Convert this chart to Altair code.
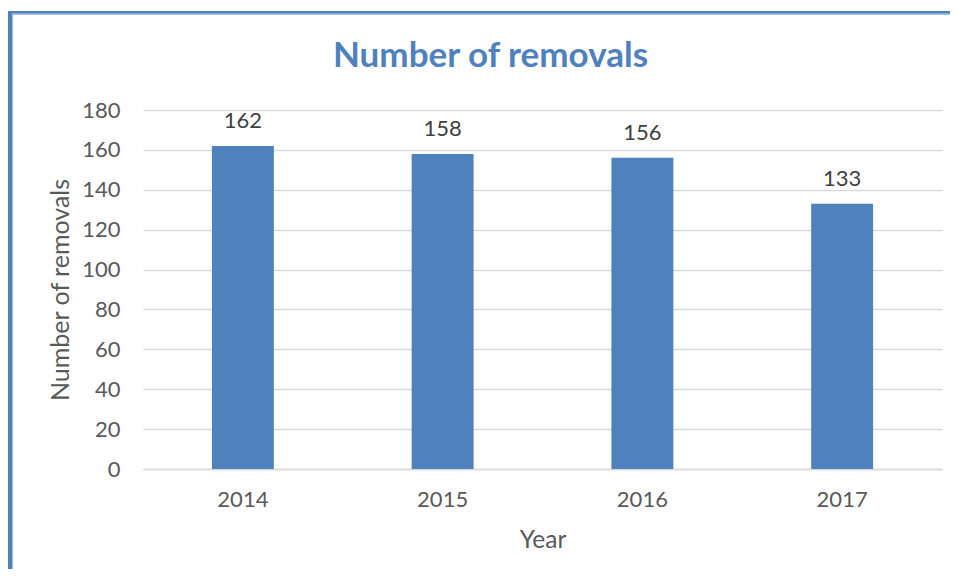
import altair as alt
import pandas as pd

years = ["2014", "2015", "2016", "2017"]
removals = [162, 158, 156, 133]
y_ticks = [0, 20, 40, 60, 80, 100, 120, 140, 160, 180]

df = pd.DataFrame({"Year": years, "Removals": removals})

BLUE = "#4F81BD"
GREY_TXT = "#595959"
FONT = "Lato"

W, H = 799, 359
PAD_L, PAD_T = 135, 102

x_enc = alt.X(
    "Year:N",
    sort=years,
    scale=alt.Scale(paddingInner=0.69, paddingOuter=0.345),
    axis=alt.Axis(
        title="Year", labelAngle=0, ticks=False, domain=True,
        domainColor="#D9D9D9", domainWidth=1.5, labelPadding=20,
        labelFontSize=22, labelColor=GREY_TXT, labelFont=FONT,
        titleFontSize=24.5, titleColor=GREY_TXT, titleFont=FONT,
        titleFontWeight="normal", titlePadding=18,
    ),
)
y_enc = alt.Y(
    "Removals:Q",
    scale=alt.Scale(domain=[0, 180], nice=False),
    axis=alt.Axis(
        title="Number of removals", values=y_ticks,
        ticks=False, domain=False,
        grid=True, gridColor="#D9D9D9", gridWidth=1.5, labelPadding=23,
        labelOverlap=False, labelFlush=False,
        labelFontSize=22, labelColor=GREY_TXT, labelFont=FONT,
        titleFontSize=25, titleColor=GREY_TXT, titleFont=FONT,
        titleFontWeight="normal", titlePadding=8,
    ),
)

base = alt.Chart(df).encode(x=x_enc, y=y_enc)

bars = base.mark_bar(color=BLUE)
labels = base.mark_text(
    baseline="alphabetic", dy=-18, fontSize=22, font=FONT, color="#404040"
).encode(text="Removals:Q")

one = alt.Data(values=[{"k": 1}])
border_left = alt.Chart(one).mark_rule(color=BLUE, strokeWidth=4).encode(
    x=alt.value(-PAD_L + 2), y=alt.value(-PAD_T + 3), y2=alt.value(H + 120)
)
border_left_light = alt.Chart(one).mark_rule(color="#A7C0E3", strokeWidth=1.2).encode(
    x=alt.value(-PAD_L + 4.6), y=alt.value(-PAD_T + 6), y2=alt.value(H + 120)
)
border_top = alt.Chart(one).mark_rule(color=BLUE, strokeWidth=2.8).encode(
    x=alt.value(-PAD_L), x2=alt.value(W + 20), y=alt.value(-PAD_T + 4.4)
)
border_top_light = alt.Chart(one).mark_rule(color="#A7C0E3", strokeWidth=1.2).encode(
    x=alt.value(-PAD_L + 5.2), x2=alt.value(W + 20), y=alt.value(-PAD_T + 6.4)
)

chart = alt.layer(
    bars, labels, border_left, border_left_light, border_top, border_top_light
).properties(
    width=W,
    height=H,
    title=alt.TitleParams(
        "Number of removals", fontSize=35, font=FONT, fontWeight="bold",
        color=BLUE, anchor="middle", frame="group", dx=-52, offset=-93,
        baseline="alphabetic",
    ),
    autosize=alt.AutoSizeParams(type="none"),
    padding={"left": PAD_L, "top": PAD_T, "right": 8, "bottom": 100},
).configure_view(stroke=None)

chart.save("out.html", embed_options={"renderer": "svg", "actions": False})
